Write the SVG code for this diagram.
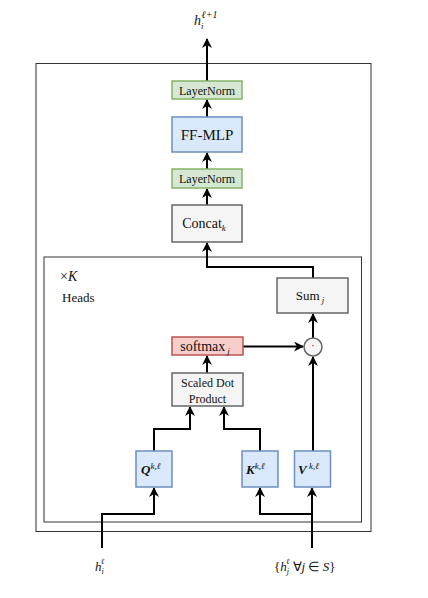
<svg xmlns="http://www.w3.org/2000/svg" width="428" height="598" viewBox="0 0 428 598">
<defs>
<marker id="ah" viewBox="0 0 10 10" refX="9" refY="5" markerWidth="5" markerHeight="5" orient="auto" markerUnits="strokeWidth">
<path d="M0,0 L10,5 L0,10 L3,5 Z" fill="#000"/>
</marker>
</defs>
<style>
text{font-family:"Liberation Serif","Times New Roman",serif;fill:#111;}
.ln rect{fill:#d5e8d4;stroke:#82b366;stroke-width:1.5;}
.bl rect{fill:#dae8fc;stroke:#6c8ebf;stroke-width:1.5;}
.gr rect,.gr circle{fill:#f5f5f5;stroke:#666;stroke-width:1.5;}
.rd rect{fill:#f8cecc;stroke:#b85450;stroke-width:1.5;}
.c{fill:none;stroke:#000;stroke-width:2;marker-end:url(#ah);}
.frame{fill:none;stroke:#333;stroke-width:1;}
</style>
<rect class="frame" x="36" y="63.5" width="335" height="468"/>
<rect class="frame" x="44" y="257" width="317.5" height="265"/>
<g id="connectors">
<path class="c" d="M207,81 V39"/>
<path class="c" d="M207,117 V100"/>
<path class="c" d="M207,169 V153"/>
<path class="c" d="M207,205 V189"/>
<path class="c" d="M313,278 V267 H207 V243"/>
<path class="c" d="M313,338 V314"/>
<path class="c" d="M243,346.5 H303"/>
<path class="c" d="M207,373 V356"/>
<path class="c" d="M154,451 V429 H190 V407"/>
<path class="c" d="M260,451 V429 H224 V407"/>
<path class="c" d="M313,451 V357"/>
<path class="c" d="M102,548 V514 H154 V488"/>
<path class="c" d="M312,548 V488"/>
<path class="c" d="M312,514 H260 V488"/>
</g>
<g id="out"><text x="194" y="25" font-size="14" font-style="italic">h<tspan font-size="9" dy="4">i</tspan><tspan font-size="10" dy="-11" dx="-2">ℓ+1</tspan></text></g>
<g id="ln1" class="ln"><rect x="172" y="81" width="70" height="18"/><text x="207" y="94.5" font-size="12" text-anchor="middle">LayerNorm</text></g>
<g id="ffmlp" class="bl"><rect x="172" y="117" width="70" height="35"/><text x="207" y="140" font-size="15" text-anchor="middle">FF-MLP</text></g>
<g id="ln2" class="ln"><rect x="172" y="169" width="70" height="19"/><text x="207" y="183" font-size="12" text-anchor="middle">LayerNorm</text></g>
<g id="concat" class="gr"><rect x="172" y="205" width="70" height="37"/><text x="204" y="228" font-size="14" text-anchor="middle">Concat<tspan font-size="9" dy="3" font-style="italic">k</tspan></text></g>
<g id="heads"><text x="60" y="281" font-size="14">×<tspan font-style="italic">K</tspan></text><text x="62" y="302" font-size="13">Heads</text></g>
<g id="sum" class="gr"><rect x="277" y="278" width="71" height="35"/><text x="310" y="300" font-size="13" text-anchor="middle">Sum<tspan font-size="9" dy="3" dx="2" font-style="italic">j</tspan></text></g>
<g id="softmax" class="rd"><rect x="172" y="337" width="71" height="18"/><text x="205" y="351" font-size="14" text-anchor="middle">softmax<tspan font-size="9" dy="3" dx="2" font-style="italic">j</tspan></text></g>
<g id="dot" class="gr"><circle cx="313" cy="347" r="9"/><text x="313" y="349" font-size="10" text-anchor="middle">·</text></g>
<g id="sdp" class="gr"><rect x="172" y="373" width="71" height="33"/><text x="207.5" y="387" font-size="12" text-anchor="middle">Scaled Dot</text><text x="207.5" y="402.5" font-size="12" text-anchor="middle">Product</text></g>
<g id="q" class="bl"><rect x="136" y="451" width="36" height="36"/><text x="141" y="474" font-size="13" font-style="italic" font-weight="bold">Q<tspan font-size="9" dy="-5" font-weight="normal">k,ℓ</tspan></text></g>
<g id="k" class="bl"><rect x="242" y="451" width="36" height="36"/><text x="246" y="474" font-size="13" font-style="italic" font-weight="bold">K<tspan font-size="9" dy="-5" font-weight="normal">k,ℓ</tspan></text></g>
<g id="v" class="bl"><rect x="294.5" y="451" width="36" height="36"/><text x="298" y="474" font-size="13" font-style="italic" font-weight="bold">V<tspan font-size="9" dy="-5" font-weight="normal"> k,ℓ</tspan></text></g>
<g id="hi"><text x="95" y="571" font-size="13" font-style="italic">h<tspan font-size="8" dy="3">i</tspan><tspan font-size="8" dy="-10" dx="-3">ℓ</tspan></text></g>
<g id="hj"><text x="274" y="571" font-size="13">{<tspan font-style="italic">h</tspan><tspan font-size="8" dy="3" font-style="italic">j</tspan><tspan font-size="8" dy="-10" dx="-3" font-style="italic">ℓ</tspan><tspan dy="7"> ∀</tspan><tspan font-style="italic">j</tspan> ∈ <tspan font-style="italic">S</tspan>}</text></g>
</svg>
